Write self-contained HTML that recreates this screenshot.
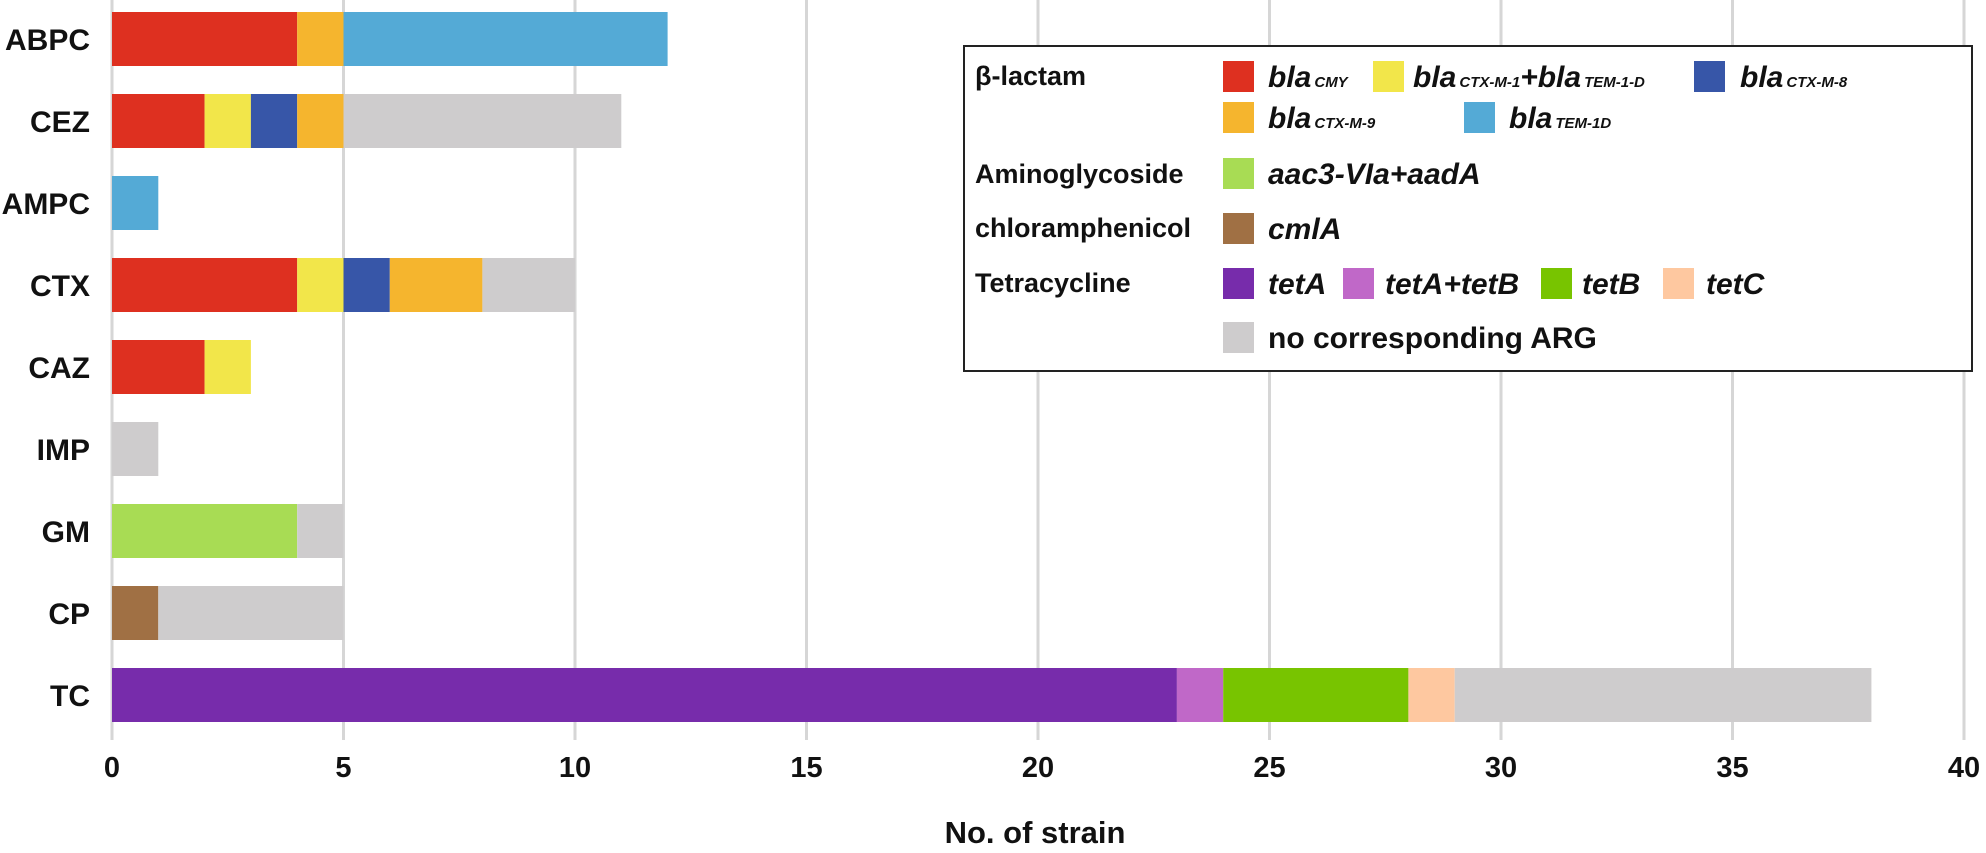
<!DOCTYPE html>
<html><head><meta charset="utf-8"><style>
html,body{margin:0;padding:0;background:#fff;}
svg{display:block;font-family:"Liberation Sans",Arial,sans-serif;font-weight:bold;}
</style></head><body>
<svg width="1986" height="853" viewBox="0 0 1986 853">
<g stroke="#d6d6d6" stroke-width="3">
<line x1="112" y1="0" x2="112" y2="740"/>
<line x1="343.5" y1="0" x2="343.5" y2="740"/>
<line x1="575" y1="0" x2="575" y2="740"/>
<line x1="806.5" y1="0" x2="806.5" y2="740"/>
<line x1="1038" y1="0" x2="1038" y2="740"/>
<line x1="1269.5" y1="0" x2="1269.5" y2="740"/>
<line x1="1501" y1="0" x2="1501" y2="740"/>
<line x1="1732.5" y1="0" x2="1732.5" y2="740"/>
<line x1="1964" y1="0" x2="1964" y2="740"/>
</g>
<g id="bars">
<rect x="112" y="12" width="185.2" height="54" fill="#de3020"/>
<rect x="297.2" y="12" width="46.3" height="54" fill="#f5b52e"/>
<rect x="343.5" y="12" width="324.1" height="54" fill="#54aad6"/>
<rect x="112" y="94" width="92.6" height="54" fill="#de3020"/>
<rect x="204.6" y="94" width="46.3" height="54" fill="#f2e64a"/>
<rect x="250.9" y="94" width="46.3" height="54" fill="#3756a8"/>
<rect x="297.2" y="94" width="46.3" height="54" fill="#f5b52e"/>
<rect x="343.5" y="94" width="277.8" height="54" fill="#cecccd"/>
<rect x="112" y="176" width="46.3" height="54" fill="#54aad6"/>
<rect x="112" y="258" width="185.2" height="54" fill="#de3020"/>
<rect x="297.2" y="258" width="46.3" height="54" fill="#f2e64a"/>
<rect x="343.5" y="258" width="46.3" height="54" fill="#3756a8"/>
<rect x="389.8" y="258" width="92.6" height="54" fill="#f5b52e"/>
<rect x="482.4" y="258" width="92.6" height="54" fill="#cecccd"/>
<rect x="112" y="340" width="92.6" height="54" fill="#de3020"/>
<rect x="204.6" y="340" width="46.3" height="54" fill="#f2e64a"/>
<rect x="112" y="422" width="46.3" height="54" fill="#cecccd"/>
<rect x="112" y="504" width="185.2" height="54" fill="#a8dc54"/>
<rect x="297.2" y="504" width="46.3" height="54" fill="#cecccd"/>
<rect x="112" y="586" width="46.3" height="54" fill="#a07044"/>
<rect x="158.3" y="586" width="185.2" height="54" fill="#cecccd"/>
<rect x="112" y="668" width="1064.9" height="54" fill="#772cab"/>
<rect x="1176.9" y="668" width="46.3" height="54" fill="#c068c8"/>
<rect x="1223.2" y="668" width="185.2" height="54" fill="#78c400"/>
<rect x="1408.4" y="668" width="46.3" height="54" fill="#fec8a0"/>
<rect x="1454.7" y="668" width="416.7" height="54" fill="#cecccd"/>
</g>
<g font-size="30" text-anchor="end" fill="#111">
<text x="90" y="50">ABPC</text>
<text x="90" y="132">CEZ</text>
<text x="90" y="214">AMPC</text>
<text x="90" y="296">CTX</text>
<text x="90" y="378">CAZ</text>
<text x="90" y="460">IMP</text>
<text x="90" y="542">GM</text>
<text x="90" y="624">CP</text>
<text x="90" y="706">TC</text>
</g>
<g font-size="29" text-anchor="middle" fill="#111">
<text x="112" y="777">0</text>
<text x="343.5" y="777">5</text>
<text x="575" y="777">10</text>
<text x="806.5" y="777">15</text>
<text x="1038" y="777">20</text>
<text x="1269.5" y="777">25</text>
<text x="1501" y="777">30</text>
<text x="1732.5" y="777">35</text>
<text x="1964" y="777">40</text>
<text x="1035" y="843" font-size="31">No. of strain</text>
</g>
<rect x="964" y="46" width="1008" height="325" fill="#fff" stroke="#222" stroke-width="2"/>
<g font-size="27" fill="#111">
<text x="975" y="85">β-lactam</text>
<text x="975" y="183">Aminoglycoside</text>
<text x="975" y="237">chloramphenicol</text>
<text x="975" y="292">Tetracycline</text>
</g>
<g>
<rect x="1223" y="61" width="31" height="31" fill="#de3020"/>
<rect x="1373" y="61" width="31" height="31" fill="#f2e64a"/>
<rect x="1694" y="61" width="31" height="31" fill="#3756a8"/>
<rect x="1223" y="102" width="31" height="31" fill="#f5b52e"/>
<rect x="1464" y="102" width="31" height="31" fill="#54aad6"/>
<rect x="1223" y="158" width="31" height="31" fill="#a8dc54"/>
<rect x="1223" y="213" width="31" height="31" fill="#a07044"/>
<rect x="1223" y="268" width="31" height="31" fill="#772cab"/>
<rect x="1343" y="268" width="31" height="31" fill="#c068c8"/>
<rect x="1541" y="268" width="31" height="31" fill="#78c400"/>
<rect x="1663" y="268" width="31" height="31" fill="#fec8a0"/>
<rect x="1223" y="322" width="31" height="31" fill="#cecccd"/>
</g>
<g font-size="30" font-style="italic" fill="#111">
<text x="1268" y="87">bla<tspan font-size="15" dx="3">CMY</tspan></text>
<text x="1413" y="87">bla<tspan font-size="15" dx="3">CTX-M-1</tspan>+bla<tspan font-size="15" dx="3">TEM-1-D</tspan></text>
<text x="1740" y="87">bla<tspan font-size="15" dx="3">CTX-M-8</tspan></text>
<text x="1268" y="128">bla<tspan font-size="15" dx="3">CTX-M-9</tspan></text>
<text x="1509" y="128">bla<tspan font-size="15" dx="3">TEM-1D</tspan></text>
<text x="1268" y="184">aac3-VIa+aadA</text>
<text x="1268" y="239">cmlA</text>
<text x="1268" y="294">tetA</text>
<text x="1385" y="294">tetA+tetB</text>
<text x="1582" y="294">tetB</text>
<text x="1706" y="294">tetC</text>
<text x="1268" y="348" font-style="normal">no corresponding ARG</text>
</g>
</svg>
</body></html>
